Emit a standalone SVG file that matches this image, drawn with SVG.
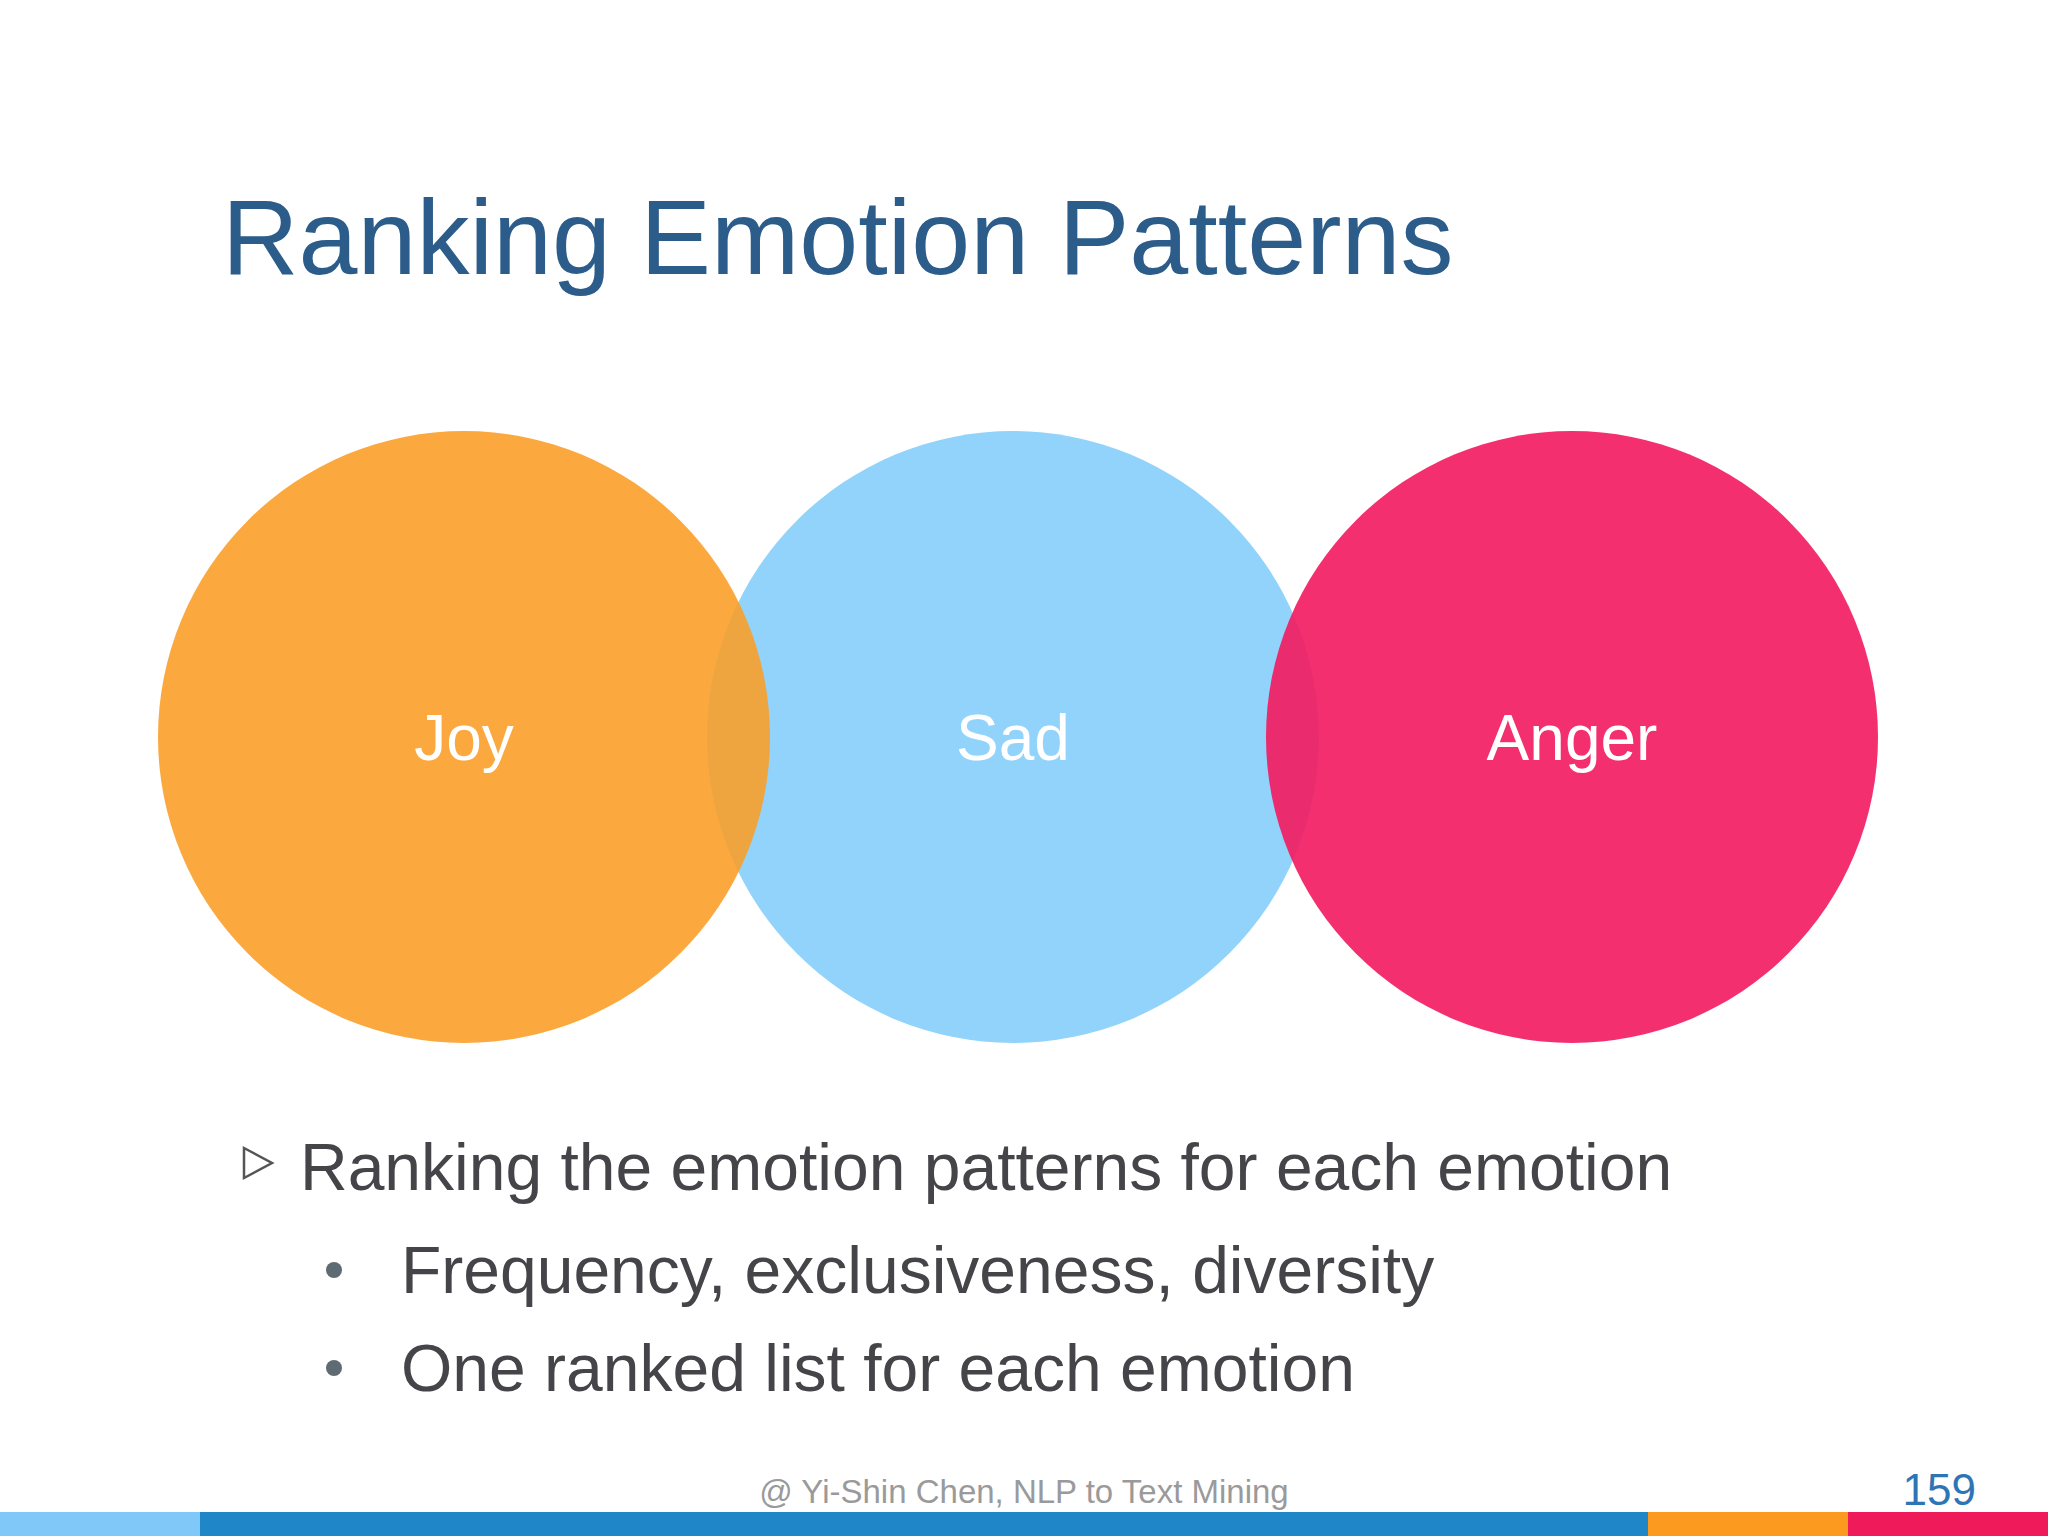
<svg xmlns="http://www.w3.org/2000/svg" width="2048" height="1536" viewBox="0 0 2048 1536">
<style>
.lbl{font-family:"Liberation Sans",Arial,sans-serif;font-size:64px;fill:#fff;text-anchor:middle}
.body{font-family:"Liberation Sans",Arial,sans-serif;font-size:66px;fill:#444449}
</style>
<rect width="2048" height="1536" fill="#fff"/>
<text x="222" y="274" font-family="Liberation Sans,Arial,sans-serif" font-size="106" fill="#2B5C8A">Ranking Emotion Patterns</text>
<g id="sad"><circle cx="1013" cy="737" r="306" fill="#92D3FB"/><text class="lbl" x="1013" y="760">Sad</text></g>
<g id="joy"><circle cx="464" cy="737" r="306" fill="#FB9D24" fill-opacity="0.88"/><text class="lbl" x="464" y="760">Joy</text></g>
<g id="anger"><circle cx="1572" cy="737" r="306" fill="#F21D63" fill-opacity="0.92"/><text class="lbl" x="1572" y="760">Anger</text></g>
<g id="connectors"/>
<polygon points="244,1148 272,1163 244,1178" fill="none" stroke="#555" stroke-width="2.5"/>
<text class="body" x="300" y="1190">Ranking the emotion patterns for each emotion</text>
<circle cx="334" cy="1270" r="8" fill="#5f6b73"/>
<text class="body" x="401" y="1293">Frequency, exclusiveness, diversity</text>
<circle cx="334" cy="1368" r="8" fill="#5f6b73"/>
<text class="body" x="401" y="1391">One ranked list for each emotion</text>
<text x="1024" y="1503" font-family="Liberation Sans,Arial,sans-serif" font-size="33" fill="#9a9a9a" text-anchor="middle">@ Yi-Shin Chen, NLP to Text Mining</text>
<text x="1976" y="1505" font-family="Liberation Sans,Arial,sans-serif" font-size="44" fill="#2E75B6" text-anchor="end">159</text>
<rect x="0" y="1512" width="200" height="24" fill="#7FC8F8"/>
<rect x="200" y="1512" width="1448" height="24" fill="#1F86C8"/>
<rect x="1648" y="1512" width="200" height="24" fill="#FB9A1E"/>
<rect x="1848" y="1512" width="200" height="24" fill="#EE1A5A"/>
</svg>
